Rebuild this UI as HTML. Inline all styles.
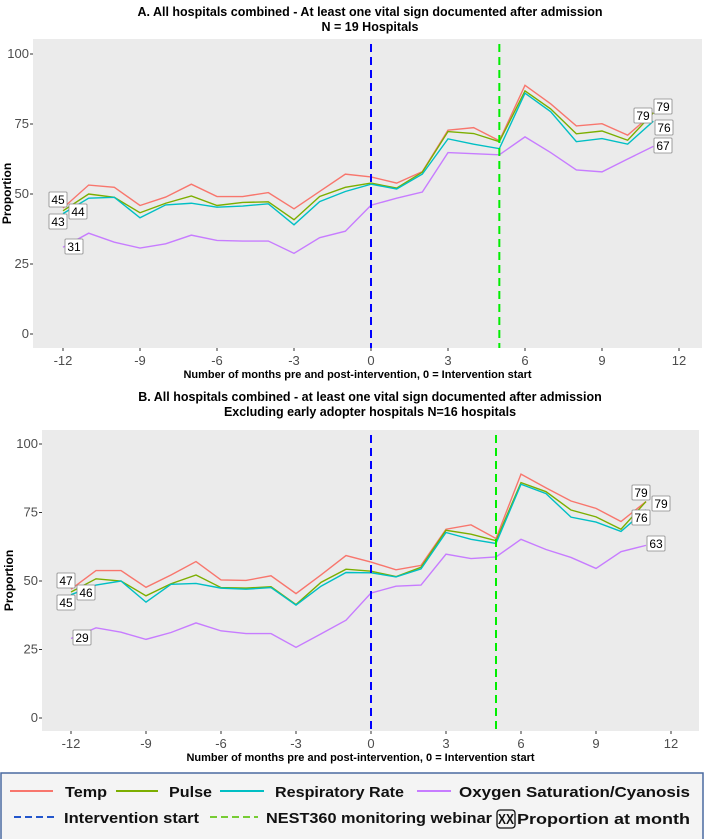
<!DOCTYPE html>
<html><head><meta charset="utf-8"><style>
body{margin:0;background:#fff;width:704px;height:839px;overflow:hidden;font-family:"Liberation Sans",sans-serif}
svg{display:block}
</style></head><body>
<svg id="c" width="704" height="839"></svg>
<script>
const months=[-12,-11,-10,-9,-8,-7,-6,-5,-4,-3,-2,-1,0,1,2,3,4,5,6,7,8,9,10,11];
const xTicks=[-12,-9,-6,-3,0,3,6,9,12];
const yTicks=[0,25,50,75,100];
const tempA=[45,53.2,52.4,45.9,48.9,53.5,49.1,49.1,50.5,44.7,50.9,57.1,56.1,53.9,58,72.8,73.7,69,88.8,82.2,74.3,75.1,71,79];
const pulseA=[44,50,48.8,43.3,46.7,49.3,45.9,47,47.2,40.8,49.1,52.4,53.9,52.1,57.8,72.3,71.6,68.7,86.8,80.4,71.5,72.5,69.2,79];
const respA=[43,48.5,48.8,41.5,46.1,46.7,45.3,45.7,46.5,39,47.3,50.9,53.5,51.8,57.1,69.7,67.8,66.2,86,79.4,68.7,69.8,67.8,76];
const oxyA=[31,36,32.8,30.7,32.2,35.3,33.4,33.2,33.2,28.8,34.4,36.7,46,48.5,50.7,64.8,64.4,64,70.4,64.8,58.6,57.9,62.5,67];
const tempB=[47,53.8,53.8,47.7,52.2,57.1,50.4,50.2,51.9,45.4,52.2,59.3,56.9,54.1,55.7,68.9,70.5,65.5,89,84,79.2,76.5,71.7,79];
const pulseB=[46,50.8,50,44.6,49,52.2,47.6,47.4,47.9,41.4,49.5,54.3,53.6,51.6,55,68.5,67.1,64.7,85.9,82.6,75.9,73.4,68.9,79];
const respB=[45,48.5,50,42.3,48.8,49.1,47.4,47,47.6,41.2,48.1,53.1,53,51.5,54.4,67.7,65.2,63.7,85.3,81.9,73.3,71.5,68.1,76];
const oxyB=[29,32.9,31.3,28.7,31.2,34.7,31.8,30.8,30.8,25.8,30.7,35.7,45.6,48.1,48.5,59.8,58.2,58.8,65.2,61.5,58.6,54.6,60.7,63];
const interventionMonth=0, webinarMonth=5;
const NS='http://www.w3.org/2000/svg';
const svg=document.getElementById('c');
function mk(tag,attrs,parent){const e=document.createElementNS(NS,tag);for(const k in attrs)e.setAttribute(k,attrs[k]);(parent||svg).appendChild(e);return e;}
function txt(s,attrs,parent){const e=mk('text',attrs,parent);e.textContent=s;return e;}
const colors={temp:'#f8766d',pulse:'#7cae00',resp:'#00bfc4',oxy:'#c77cff'};
function panel(cfg){
  const g=mk('g',{});
  
  
  const X=v=>cfg.x0+(v+12)*(cfg.x1-cfg.x0)/24;
  const Y=v=>cfg.y0-v*(cfg.y0-cfg.y100)/100;
  const bg=mk('rect',{x:cfg.l,y:cfg.t,width:cfg.r-cfg.l,height:cfg.b-cfg.t,fill:'#ebebeb'},g);
  
  xTicks.forEach(t=>{
    mk('line',{x1:X(t),x2:X(t),y1:cfg.b,y2:cfg.b+3,stroke:'#333'},g);
    const e=txt(t,{x:X(t),y:cfg.b+17,'text-anchor':'middle','font-size':13,fill:'#4d4d4d'},g);
    
  });
  yTicks.forEach(t=>{
    mk('line',{x1:cfg.l-3,x2:cfg.l,y1:Y(t),y2:Y(t),stroke:'#333'},g);
    const e=txt(t,{x:cfg.l-4,y:Y(t)+4,'text-anchor':'end','font-size':13,fill:'#4d4d4d'},g);
    
  });
  [['temp',cfg.temp],['pulse',cfg.pulse],['resp',cfg.resp],['oxy',cfg.oxy]].forEach(([k,arr])=>{
    const p=mk('polyline',{points:arr.map((v,i)=>X(months[i])+','+Y(v)).join(' '),fill:'none',stroke:colors[k],'stroke-width':1.4},g);
    
  });
  const vb=mk('line',{x1:X(interventionMonth),x2:X(interventionMonth),y1:cfg.t+5,y2:cfg.b,stroke:'#0000ff','stroke-width':2,'stroke-dasharray':'8,5'},g);
  
  const vg=mk('line',{x1:X(webinarMonth),x2:X(webinarMonth),y1:cfg.t+5,y2:cfg.b,stroke:'#00ee00','stroke-width':2,'stroke-dasharray':'8,5'},g);
  
  cfg.labels.forEach(([v,x,y])=>{
    const lg=mk('g',{},g);
    
    mk('rect',{x:x-9,y:y-8,width:18,height:15,fill:'#fff',stroke:'#888','stroke-width':0.8,rx:1},lg);
    txt(v,{x:x,y:y+4,'text-anchor':'middle','font-size':12,fill:'#000'},lg);
  });
  cfg.titles.forEach((s,i)=>{
    const e=txt(s,{x:cfg.tx,y:cfg.ty+i*15,'text-anchor':'middle','font-size':12.5,'font-weight':'bold',fill:'#000'},g);
    
  });
  const xt=txt('Number of months pre and post-intervention, 0 = Intervention start',{x:(cfg.l+cfg.r)/2-10,y:cfg.b+30,'text-anchor':'middle','font-size':11,'font-weight':'bold',fill:'#000'},g);
  
  const yc=(cfg.t+cfg.b)/2;
  const yt=txt('Proportion',{x:cfg.ylx,y:yc,transform:`rotate(-90 ${cfg.ylx} ${yc})`,'text-anchor':'middle','font-size':12,'font-weight':'bold',fill:'#000'},g);
  
}
panel({name:'panel-a',l:33,r:702,t:39,b:348,x0:63,x1:679,y0:334,y100:54,temp:tempA,pulse:pulseA,resp:respA,oxy:oxyA,
 labels:[[45,58,200],[44,78,212],[43,58,222],[31,74,247],[79,663,107],[79,643,116],[76,664,128],[67,663,146]],
 titles:['A. All hospitals combined - At least one vital sign documented after admission','N = 19 Hospitals'],tx:370,ty:16,ylx:11});
panel({name:'panel-b',l:42,r:699,t:430,b:731,x0:71,x1:671,y0:718,y100:444,temp:tempB,pulse:pulseB,resp:respB,oxy:oxyB,
 labels:[[47,66,581],[46,86,593],[45,66,603],[29,82,638],[79,641,493],[79,661,504],[76,641,518],[63,656,544]],
 titles:['B. All hospitals combined - at least one vital sign documented after admission','Excluding early adopter hospitals N=16 hospitals'],tx:370,ty:401,ylx:13});
// legend
const lg=mk('g',{});

mk('rect',{x:1,y:773,width:702,height:70,fill:'#f4f4f4',stroke:'#4a6aa0','stroke-width':1.5},lg);
const items=[
 ['Temp',colors.temp,10,53,65,107,797,null],['Pulse',colors.pulse,116,158,169,212,797,null],
 ['Respiratory Rate',colors.resp,220,264,275,404,797,null],['Oxygen Saturation/Cyanosis',colors.oxy,417,451,459,690,797,null],
 ['Intervention start','#2255cc',14,54,64,199,823,'7,4'],['NEST360 monitoring  webinar','#77cc33',210,258,266,492,823,'7,4']];
items.forEach(([s,c,a,b,tx,te,y,d])=>{
  const ig=mk('g',{},lg);
  
  const at={x1:a,x2:b,y1:y-6,y2:y-6,stroke:c,'stroke-width':2};if(d)at['stroke-dasharray']=d;
  mk('line',at,ig);
  txt(s,{x:tx,y:y,'font-size':15,'font-weight':'bold',fill:'#111',textLength:te-tx,lengthAdjust:'spacingAndGlyphs'},ig);
});
const xg=mk('g',{},lg);

mk('rect',{x:497,y:810,width:18,height:18,fill:'none',stroke:'#111','stroke-width':1.3,rx:3},xg);
txt('XX',{x:498,y:824,'font-size':15,'font-weight':'bold',fill:'#111',textLength:16,lengthAdjust:'spacingAndGlyphs'},xg);
txt('Proportion  at month',{x:517,y:824,'font-size':15,'font-weight':'bold',fill:'#111',textLength:173,lengthAdjust:'spacingAndGlyphs'},xg);
</script>
</body></html>
